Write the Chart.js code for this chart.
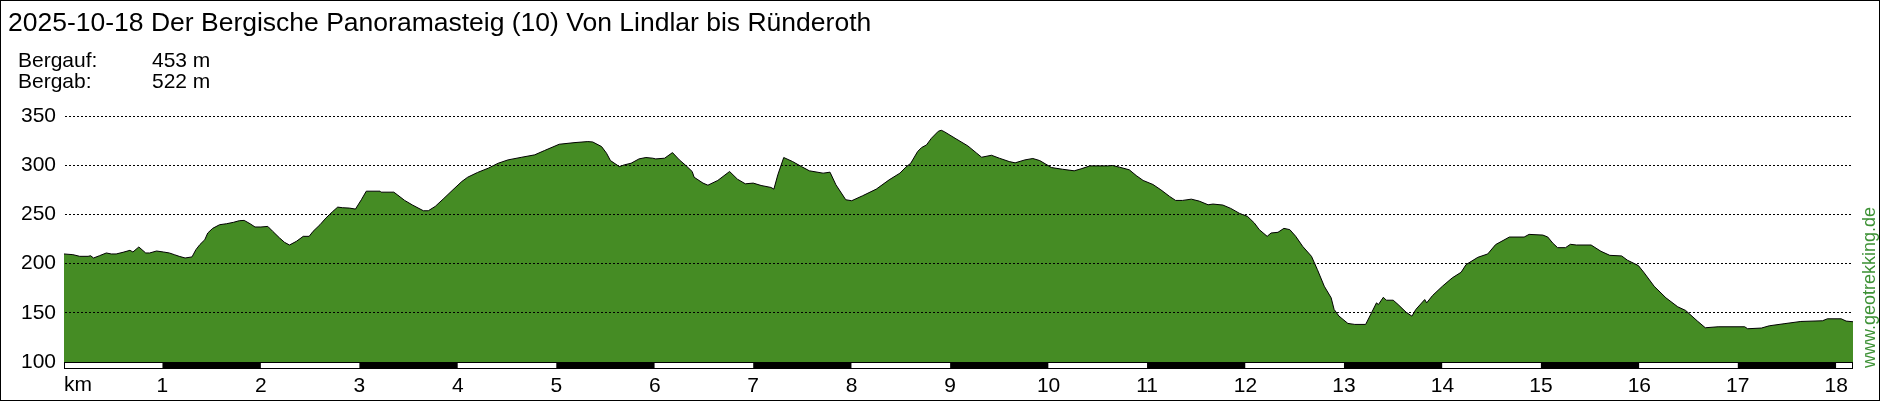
<!DOCTYPE html>
<html>
<head>
<meta charset="utf-8">
<title>Höhenprofil</title>
<script src="https://cdn.jsdelivr.net/npm/chart.js@4.4.1/dist/chart.umd.min.js"></script>
<style>
  html, body { margin: 0; padding: 0; background: #fff; }
  canvas { display: block; }
</style>
</head>
<body>
<canvas id="profileChart" width="1880" height="401"></canvas>
<script>
const chartTitle = '2025-10-18 Der Bergische Panoramasteig (10) Von Lindlar bis Ründeroth';
const statLabels = ['Bergauf:', 'Bergab:'];
const statValues = ['453 m', '522 m'];
const watermark = 'www.geotrekking.de';

// distance (km) and elevation (m)
const distKm = [0.00, 0.09, 0.16, 0.245, 0.27, 0.30, 0.36, 0.43, 0.48, 0.53, 0.60, 0.67, 0.70, 0.76, 0.83, 0.87, 0.94,
  1.01, 1.07, 1.12, 1.17, 1.23, 1.30, 1.34, 1.38, 1.43, 1.46, 1.51, 1.58, 1.65, 1.72, 1.78, 1.83, 1.89, 1.94,
  2.00, 2.07, 2.12, 2.19, 2.24, 2.29, 2.36, 2.43, 2.49, 2.53, 2.60, 2.66, 2.73, 2.78, 2.83, 2.90, 2.96,
  3.02, 3.07, 3.21, 3.22, 3.35, 3.39, 3.46, 3.54, 3.65, 3.70, 3.77, 3.85, 3.95,
  4.04, 4.10, 4.20, 4.31, 4.41, 4.51, 4.65, 4.78, 4.88,
  5.03, 5.19, 5.32, 5.37, 5.46, 5.51, 5.55, 5.64, 5.69, 5.76, 5.84, 5.91, 5.98,
  6.01, 6.10, 6.18, 6.25, 6.32, 6.38, 6.40, 6.49, 6.54, 6.64, 6.76, 6.84, 6.92,
  7.00, 7.08, 7.18, 7.21, 7.25, 7.31, 7.40, 7.49, 7.57, 7.71, 7.78, 7.84, 7.94,
  8.00, 8.11, 8.25, 8.38, 8.49, 8.55, 8.60, 8.67, 8.71, 8.76, 8.81, 8.88, 8.91, 8.94,
  9.05, 9.18, 9.27, 9.32, 9.42, 9.50, 9.60, 9.66, 9.76, 9.84, 9.91,
  10.03, 10.14, 10.26, 10.33, 10.42, 10.60, 10.65, 10.72, 10.82, 10.89, 10.96,
  11.06, 11.14, 11.23, 11.29, 11.36, 11.45, 11.53, 11.62, 11.67, 11.77, 11.85, 11.94,
  12.02, 12.09, 12.14, 12.22, 12.26, 12.33, 12.39, 12.45, 12.51, 12.58, 12.67, 12.73, 12.80, 12.87, 12.90, 12.95,
  13.04, 13.11, 13.22, 13.28, 13.33, 13.35, 13.40, 13.43, 13.50, 13.55, 13.63, 13.69, 13.73, 13.82, 13.84, 13.90,
  14.00, 14.10, 14.19, 14.24, 14.36, 14.46, 14.54, 14.68, 14.83, 14.88,
  15.02, 15.07, 15.12, 15.17, 15.25, 15.30, 15.36, 15.51, 15.61, 15.70, 15.82, 15.88, 15.99,
  16.05, 16.15, 16.27, 16.39, 16.47, 16.59, 16.67, 16.80,
  17.07, 17.10, 17.24, 17.32, 17.47, 17.64, 17.86, 17.91,
  18.05, 18.10, 18.17];
const elevM = [209.8, 209.1, 207.4, 207.4, 208.0, 205.7, 208.0, 210.8, 209.8, 209.8, 211.5, 213.5, 211.8, 216.9, 210.8, 210.8, 212.8,
  211.8, 210.8, 209.1, 207.4, 205.7, 206.8, 214.2, 219.3, 224.3, 231.1, 235.8, 239.5, 240.5, 241.9, 243.6, 243.9, 240.5, 237.2,
  237.2, 237.8, 232.8, 226.0, 221.6, 218.9, 222.6, 227.7, 227.7, 232.8, 239.5, 246.3, 253.0, 257.4, 256.8, 256.4, 255.4,
  264.9, 273.6, 273.6, 272.6, 272.6, 269.6, 264.2, 259.5, 253.7, 253.7, 258.1, 265.5, 275.0,
  283.4, 287.8, 292.6, 297.0, 302.0, 305.4, 308.1, 310.5, 314.9,
  321.3, 323.0, 324.0, 323.6, 318.9, 312.2, 304.7, 298.6, 300.3, 302.0, 306.4, 307.8, 307.1,
  306.4, 307.1, 312.8, 305.4, 299.3, 293.6, 287.8, 281.8, 279.7, 284.5, 293.6, 285.8, 281.1,
  281.8, 279.4, 277.4, 275.7, 290.2, 307.8, 303.7, 298.6, 294.3, 291.9, 292.9, 280.1, 264.9,
  263.9, 268.9, 275.7, 285.1, 291.9, 298.0, 302.0, 313.9, 317.9, 320.6, 327.4, 334.5, 335.5, 334.1,
  327.4, 319.6, 312.2, 308.1, 310.1, 307.1, 303.7, 302.4, 305.4, 306.8, 304.7,
  297.6, 295.9, 294.3, 296.3, 299.3, 299.3, 299.7, 298.0, 295.3, 289.5, 284.5,
  280.4, 275.0, 268.2, 264.2, 264.2, 265.5, 263.5, 259.8, 260.5, 259.5, 256.1, 251.0,
  248.0, 241.2, 234.5, 227.7, 231.1, 231.8, 235.8, 234.5, 227.7, 217.6, 207.4, 193.9, 177.0, 165.2, 153.4, 146.6,
  139.2, 138.2, 138.2, 150.0, 160.1, 158.4, 165.8, 162.8, 162.8, 158.4, 150.7, 146.6, 153.4, 163.5, 160.1, 167.6,
  177.0, 185.5, 191.2, 199.0, 206.4, 209.8, 219.3, 227.0, 227.0, 229.7,
  229.0, 227.0, 220.9, 216.2, 216.2, 219.6, 218.9, 218.9, 212.5, 208.4, 207.8, 203.4, 198.0,
  190.5, 177.0, 165.2, 156.1, 152.4, 141.6, 134.8, 135.8,
  135.8, 133.8, 134.5, 136.8, 138.9, 141.2, 141.9, 143.9,
  143.9, 141.6, 140.9];

const kmTicks = [0, 1, 2, 3, 4, 5, 6, 7, 8, 9, 10, 11, 12, 13, 14, 15, 16, 17, 18];
const kmTickLabels = ['km', '1', '2', '3', '4', '5', '6', '7', '8', '9', '10', '11', '12', '13', '14', '15', '16', '17', '18'];
const elevTicks = [100, 150, 200, 250, 300, 350];
const totalKm = 18.17;

const FONT = '"Liberation Sans", Arial, sans-serif';

// title, stats, km bar, watermark, frame
const decor = {
  id: 'decor',
  beforeDraw(chart) {
    const ctx = chart.ctx;
    ctx.save();
    ctx.fillStyle = '#fff';
    ctx.fillRect(0, 0, chart.width, chart.height);
    ctx.restore();
  },
  afterDraw(chart) {
    const { ctx, chartArea: a, scales: { x } } = chart;
    ctx.save();
    ctx.fillStyle = '#000';
    ctx.textBaseline = 'alphabetic';
    ctx.font = '26.5px ' + FONT;
    ctx.fillText(chartTitle, 8, 31);
    ctx.font = '21px ' + FONT;
    statLabels.forEach((l, i) => {
      ctx.fillText(l, 18, 66.5 + i * 21);
      ctx.fillText(statValues[i], 152, 66.5 + i * 21);
    });

    // km scale bar below the plot
    const barTop = a.bottom, barH = 7;
    kmTicks.forEach((k, i) => {
      const x0 = x.getPixelForValue(k);
      const x1 = x.getPixelForValue(Math.min(k + 1, totalKm));
      ctx.fillStyle = i % 2 ? '#000' : '#fff';
      ctx.fillRect(x0, barTop, x1 - x0, barH);
    });
    ctx.strokeStyle = '#000';
    ctx.lineWidth = 1;
    ctx.strokeRect(Math.round(a.left) + 0.5, barTop + 0.5, Math.round(a.right - a.left) - 1, barH - 1);

    ctx.fillStyle = '#000';
    ctx.font = '21px ' + FONT;
    ctx.textBaseline = 'middle';
    ctx.fillText(kmTickLabels[0], a.left, 385);

    // watermark
    ctx.save();
    ctx.translate(1870, 368);
    ctx.rotate(-Math.PI / 2);
    ctx.font = '18px ' + FONT;
    ctx.fillStyle = '#3d9135';
    ctx.textBaseline = 'middle';
    ctx.fillText(watermark, 0, 0);
    ctx.restore();

    ctx.strokeStyle = '#000';
    ctx.strokeRect(0.5, 0.5, chart.width - 1, chart.height - 1);
    ctx.restore();
  }
};

new Chart(document.getElementById('profileChart'), {
  type: 'line',
  data: {
    datasets: [{
      data: distKm.map((d, i) => ({ x: d, y: elevM[i] })),
      fill: 'start',
      backgroundColor: '#458c24',
      borderColor: '#000',
      borderWidth: 1,
      pointRadius: 0,
      tension: 0
    }]
  },
  options: {
    responsive: false,
    animation: false,
    layout: { padding: { top: 116, right: 27, bottom: 0, left: 0 } },
    plugins: { legend: { display: false }, tooltip: { enabled: false } },
    scales: {
      x: {
        type: 'linear', min: 0, max: totalKm,
        afterFit: s => { s.height = 39; },
        afterBuildTicks: s => { s.ticks = kmTicks.map(v => ({ value: v })); },
        grid: { display: false },
        border: { display: false },
        ticks: {
          autoSkip: false, maxRotation: 0, padding: 4, color: '#000',
          font: { family: FONT, size: 21 },
          callback: (v, i) => i === 0 ? '' : kmTickLabels[i]
        }
      },
      y: {
        min: 100, max: 350,
        afterFit: s => { s.width = 64; },
        afterBuildTicks: s => { s.ticks = elevTicks.map(v => ({ value: v })); },
        grid: {
          z: 1, drawTicks: false, lineWidth: 1,
          color: c => c.tick && c.tick.value === 100 ? 'rgba(0,0,0,0)' : '#000'
        },
        border: { display: true, color: '#000', width: 1, dash: [2, 2] },
        ticks: { padding: 8, color: '#000', font: { family: FONT, size: 21 } }
      }
    }
  },
  plugins: [decor]
});
</script>
</body>
</html>
